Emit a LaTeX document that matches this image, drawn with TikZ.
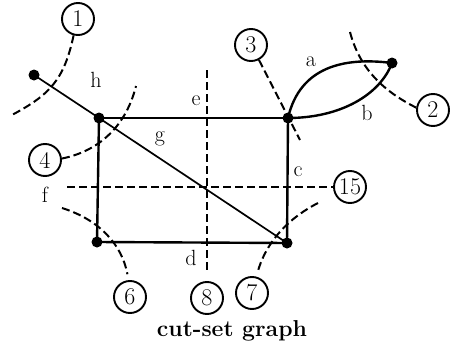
\documentclass[tikz,border=0pt]{standalone}
\usepackage{tikz}
\begin{document}
\begin{tikzpicture}[x=1pt,y=-1pt,
  vtx/.style={circle,fill=black,inner sep=0pt,minimum size=11pt},
  edg/.style={line width=2.4pt},
  thinedge/.style={line width=1.7pt},
  cutline/.style={line width=2pt,dash pattern=on 8pt off 4pt},
  cnum/.style={circle,draw,line width=1.9pt,minimum size=32pt,inner sep=0pt,font=\fontsize{24}{26}\selectfont},
  lbl/.style={font=\fontsize{22}{24}\selectfont,inner sep=0pt}]
\useasboundingbox (0,0) rectangle (450,348);
% vertices
\node[vtx] (A) at (99,118) {};
\node[vtx] (B) at (288,118) {};
\node[vtx] (C) at (97,242) {};
\node[vtx] (D) at (287,243) {};
\node[vtx] (E) at (392,63) {};
\node[vtx] (F) at (34,75) {};
% edges
\draw[thinedge] (F.center) -- (A.center);
\draw[edg] (A.center) -- (B.center);
\draw[edg] (A.center) -- (C.center);
\draw[edg] (C.center) -- (D.center);
\draw[edg] (B.center) -- (D.center);
\draw[thinedge] (A.center) -- (D.center);
\draw[edg] (B.center) .. controls (300,66) and (345,57) .. (E.center);
\draw[edg] (B.center) .. controls (340,118) and (380,95) .. (E.center);
% edge labels
\node[lbl] (lh) at (96,80) {h};
\node[lbl] (la) at (311,62) {a};
\node[lbl] (lb) at (367,113) {b};
\node[lbl] (le) at (196,101) {e};
\node[lbl] (lg) at (160,139) {g};
\node[lbl] (lc) at (298,172) {c};
\node[lbl] (lf) at (45,195) {f};
\node[lbl] (ld) at (191,258) {d};
% cut-set circles
\node[cnum] (n1) at (78,19) {1};
\node[cnum] (n2) at (433,110) {2};
\node[cnum] (n3) at (251,45) {3};
\node[cnum] (n4) at (45,160) {4};
\node[cnum] (n15) at (350,187) {15};
\node[cnum] (n6) at (130,297) {6};
\node[cnum] (n8) at (207,298) {8};
\node[cnum] (n7) at (252,293) {7};
% free ends of cut lines
\coordinate (c1e) at (10,116);
\coordinate (c2s) at (350,32);
\coordinate (c3e) at (300,140);
\coordinate (c4e) at (136,86);
\coordinate (c15s) at (67,187);
\coordinate (c8s) at (207,70);
\coordinate (c6s) at (62,208);
\coordinate (c7s) at (318,203);
% cut lines
\draw[cutline] (n1.-105) .. controls (64,80) and (50,95) .. (c1e);
\draw[cutline] (c2s) .. controls (360,70) and (385,92) .. (n2.172);
\draw[cutline] (n3.-62) -- (c3e);
\draw[cutline] (n4.5) .. controls (95,152) and (125,130) .. (c4e);
\draw[cutline] (c15s) -- (n15.west);
\draw[cutline,shorten >=8pt] (c8s) -- (n8.north);
\draw[cutline,shorten >=6pt] (c6s) .. controls (100,220) and (122,245) .. (n6.95);
\draw[cutline,shorten >=4pt] (c7s) .. controls (285,220) and (265,245) .. (n7.75);
% caption
\node[font=\bfseries\fontsize{23}{25}\selectfont,inner sep=0pt] (cap) at (232,331) {cut-set graph};
\end{tikzpicture}
\end{document}
